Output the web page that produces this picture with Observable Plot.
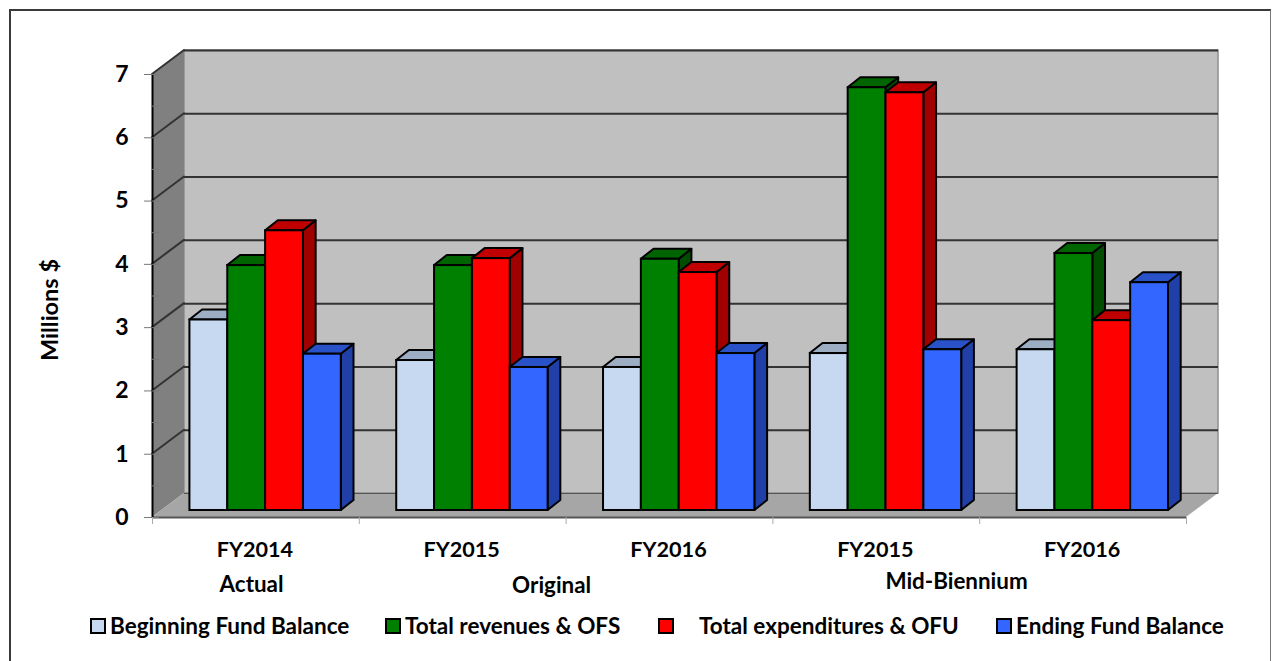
<!DOCTYPE html>
<html><head><meta charset="utf-8">
<script src="https://cdn.jsdelivr.net/npm/d3@7"></script>
<script src="https://cdn.jsdelivr.net/npm/@observablehq/plot@0.6"></script>
<style>
html,body{margin:0;padding:0;background:#fff}
#page{position:relative;width:1272px;height:661px;overflow:hidden;font-family:Lato,sans-serif;font-weight:700;color:#000}
#frame{position:absolute;left:9px;top:9px;width:1262px;height:660px;box-sizing:border-box;border:2px solid #3a3a3a;border-right:1px solid #777;}
#chart{position:absolute;left:0;top:0}
#legend{position:absolute;left:0;top:600px;width:1272px;height:61px}
.sw{position:absolute;top:18px;width:12px;height:12px;border:2.5px solid #000;box-sizing:content-box}
.lb{position:absolute;top:12px;font-size:22.5px;line-height:28px;white-space:nowrap}
</style></head><body>
<div id="page"><div id="frame"></div><div id="chart"></div><div id="legend"></div></div>
<script>
const periods = ["FY2014","FY2015","FY2016","FY2015","FY2016"];
const groupLabels = ["Actual","Original","Mid-Biennium"];
const yTicks = [0,1,2,3,4,5,6,7];
const minorTicks = [0.5,1.5,2.5,3.5,4.5,5.5,6.5];
const beginning = [3.01,2.37,2.26,2.48,2.54];
const revenues = [3.87,3.87,3.97,6.68,4.06];
const expenditures = [4.42,3.98,3.76,6.60,3.00];
const ending = [2.47,2.26,2.48,2.54,3.60];
const seriesNames = ["Beginning Fund Balance","Total revenues & OFS","Total expenditures & OFU","Ending Fund Balance"];
const seriesValues = [beginning,revenues,expenditures,ending];
const frontColors = ["#c6d9f1","#008000","#ff0000","#3366ff"];
const topColors = ["#9dadc4","#006400","#c00000","#2a52c8"];
const sideColors = ["#8090a8","#004d00","#a00000","#2040a8"];

const wallDx = 32, wallDy = -24, baseDx = 9.3, baseDy = -7, barDx = 12.7, barDy = -10;
const barStart = 0.136, barW = 0.183;
const ns = "http://www.w3.org/2000/svg";

function polyMark(build){
  return (index, scales) => {
    const g = document.createElementNS(ns,"g");
    for (const f of build(scales)){
      const p = document.createElementNS(ns,"polygon");
      p.setAttribute("points", f.pts.map(q=>q.join(",")).join(" "));
      p.setAttribute("fill", f.fill ?? "none");
      if (f.stroke){p.setAttribute("stroke",f.stroke);p.setAttribute("stroke-width",f.sw ?? 1);p.setAttribute("stroke-linejoin","round");}
      g.appendChild(p);
    }
    return g;
  };
}

const wallRect = [{x1:0,x2:5,y1:0,y2:7}];

const sideWall = polyMark(({x,y})=>[
  {pts:[[x(0),y(0)],[x(0),y(7)],[x(0)+wallDx,y(7)+wallDy],[x(0)+wallDx,y(0)+wallDy]],fill:"#808080"},
  {pts:[[x(0),y(0)],[x(5),y(0)],[x(5)+wallDx,y(0)+wallDy],[x(0)+wallDx,y(0)+wallDy]],fill:"#a6a6a6"}
]);
const slants = polyMark(({x,y})=>yTicks.filter(t=>t>0).map(t=>(
  {pts:[[x(0),y(t)],[x(0)+wallDx,y(t)+wallDy]],stroke:"#333",sw:2}
)));

function barFaces(si){
  return polyMark(({x,y})=>seriesValues[si].flatMap((v,c)=>{
    const l=x(c+barStart+si*barW)+baseDx, r=x(c+barStart+(si+1)*barW)+baseDx;
    const b=y(0)+baseDy, t=y(v)+baseDy;
    return [
      {pts:[[r,b],[r,t],[r+barDx,t+barDy],[r+barDx,b+barDy]],fill:sideColors[si],stroke:"#000",sw:2},
      {pts:[[l,t],[r,t],[r+barDx,t+barDy],[l+barDx,t+barDy]],fill:topColors[si],stroke:"#000",sw:2}
    ];
  }));
}

const barMarks = seriesValues.flatMap((vals,si)=>[
  barFaces(si),
  Plot.rect(vals.map((v,c)=>({c,v})),{
    x1:d=>d.c+barStart+si*barW, x2:d=>d.c+barStart+(si+1)*barW,
    y1:0, y2:d=>d.v, dx:baseDx, dy:baseDy,
    fill:frontColors[si], stroke:"#000", strokeWidth:2
  })
]);

const groupX = [0.479,1.93,3.888];
const groupDy = [67,68,64];
const noText = () => "";

const chart = Plot.plot({
  width:1272, height:600,
  marginLeft:152, marginRight:86, marginTop:74, marginBottom:83,
  style:{background:"transparent",fontFamily:"Lato, sans-serif",fontWeight:700,overflow:"visible"},
  x:{type:"linear",domain:[0,5],axis:null},
  y:{type:"linear",domain:[0,7],axis:null},
  marks:[
    Plot.rect(wallRect,{x1:"x1",x2:"x2",y1:"y1",y2:"y2",dx:wallDx,dy:wallDy,fill:"#c0c0c0",stroke:"#8f8f8f",strokeWidth:1.5}),
    sideWall,
    Plot.ruleY(yTicks.filter(t=>t>0),{x1:0,x2:5,dx:wallDx,dy:wallDy,stroke:"#333",strokeWidth:2}),
    Plot.ruleY([0],{x1:0,x2:5,dx:wallDx,dy:wallDy,stroke:"#555",strokeWidth:1}),
    slants,
    Plot.ruleY([0],{x1:0,x2:5,stroke:"#555",strokeWidth:2}),
    Plot.ruleX([0],{y1:0,y2:7,stroke:"#000",strokeWidth:2}),
    Plot.axisY({ticks:yTicks,tickSize:8,tickPadding:16,anchor:"left",fontSize:23,fill:"#000",tickFormat:d=>String(d),label:null,stroke:"#777"}),
    Plot.axisY({ticks:yTicks,tickSize:-7,anchor:"left",tickFormat:noText,label:null,stroke:"#777"}),
    Plot.axisY({ticks:minorTicks,tickSize:-7,anchor:"left",tickFormat:noText,label:null,stroke:"#777"}),
    Plot.axisX({ticks:[0,1,2,3,4,5],tickSize:7,anchor:"bottom",tickFormat:noText,label:null,stroke:"#aaa"}),
    ...barMarks,
    Plot.text(periods,{x:(d,i)=>i+0.5,y:0,text:d=>d,dx:-1,dy:33,fontSize:21.6,fontWeight:700,fill:"#000"}),
    ...groupLabels.map((g,i)=>Plot.text([g],{x:()=>groupX[i],y:0,text:d=>d,dy:groupDy[i],fontSize:22.4,fontWeight:700,fill:"#000"})),
    Plot.text(["Millions $"],{frameAnchor:"left",textAnchor:"middle",dx:-102,dy:14,text:d=>d,rotate:-90,fontSize:23.5,fontWeight:700,fill:"#000"})
  ]
});
document.getElementById("chart").appendChild(chart);

const lg = document.getElementById("legend");
const swX=[90,385,658,996], txX=[110,405,699,1016];
seriesNames.forEach((n,i)=>{
  const s=document.createElement("div");s.className="sw";s.style.left=swX[i]+"px";s.style.background=frontColors[i];lg.appendChild(s);
  const t=document.createElement("div");t.className="lb";t.style.left=txX[i]+"px";t.textContent=n;lg.appendChild(t);
});
</script>
</body></html>
